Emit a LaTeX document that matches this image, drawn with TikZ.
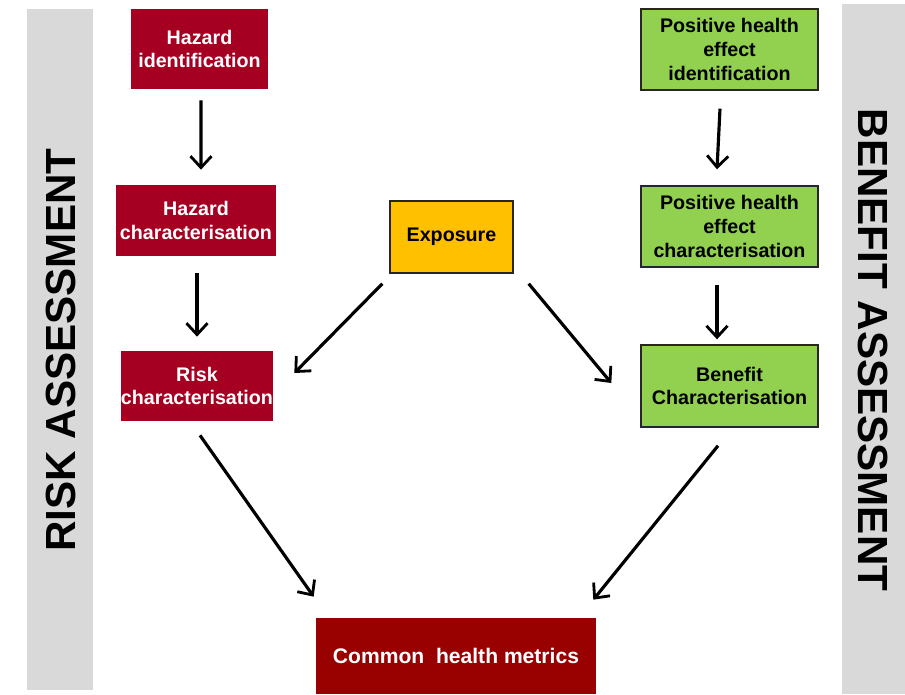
\documentclass[tikz,border=0pt]{standalone}
\usepackage{fontspec}
\setmainfont{Liberation Sans}
\usetikzlibrary{arrows.meta}
\definecolor{hazred}{HTML}{A50021}
\definecolor{metred}{HTML}{990000}
\definecolor{bengreen}{HTML}{92D050}
\definecolor{expyellow}{HTML}{FFC000}
\definecolor{bargray}{HTML}{D9D9D9}
\tikzset{
  box/.style={inner sep=0pt,align=center,font=\fontsize{11.2}{13.6}\selectfont\bfseries},
  riskbox/.style={box,fill=hazred,text=white},
  benbox/.style={box,fill=bengreen,draw=black!85,line width=0.8pt},
  arr/.style={line width=1.8pt,-{Straight Barb[length=6.5pt,width=12pt,line width=1.6pt]}},
  sidetext/.style={font=\fontsize{24}{28}\selectfont\bfseries}
}
\begin{document}
\begin{tikzpicture}[x=0.02cm,y=-0.02cm]
    \useasboundingbox (0,0) rectangle (905,694);
    \fill[bargray] (27,9) rectangle (93,690);
    \fill[bargray] (842,4) rectangle (905,694);
    \node[sidetext,rotate=90] (risk) at (61,350) {RISK ASSESSMENT};
    \node[sidetext,rotate=-90] (benefit) at (873,350) {BENEFIT ASSESSMENT};
    \node[riskbox,minimum width=2.74cm,minimum height=1.6cm] (hid) at (199.5,49) {Hazard\\identification};
    \node[riskbox,minimum width=3.2cm,minimum height=1.42cm] (hch) at (196,220.5) {Hazard\\characterisation};
    \node[riskbox,minimum width=3.04cm,minimum height=1.4cm] (rch) at (197,386) {Risk\\characterisation};
    \node[box,fill=expyellow,draw=black!85,line width=0.8pt,minimum width=2.46cm,minimum height=1.44cm] (exp) at (451.5,237) {Exposure};
    \node[benbox,minimum width=3.54cm,minimum height=1.62cm] (pid) at (729.5,49.5) {Positive health\\effect\\identification};
    \node[benbox,minimum width=3.54cm,minimum height=1.62cm] (pch) at (729.5,226.5) {Positive health\\effect\\characterisation};
    \node[benbox,minimum width=3.54cm,minimum height=1.64cm] (bch) at (729.5,386) {Benefit\\Characterisation};
    \node[box,fill=metred,text=white,font=\fontsize{12}{14}\selectfont\bfseries,minimum width=5.6cm,minimum height=1.52cm] (chm) at (456,656) {Common\ \ health metrics};
    \foreach \a/\sa/\b/\sb in {hid.south/{1.5,11}/hch.north/{5,-15},
        hch.south/{1,17}/rch.north/{0,-14},
        exp.south west/{-7,10}/rch.east/{21,-13},
        exp.south east/{15,10}/bch.west/{-29,-3},
        rch.south/{3,14}/chm.north west/{-2,-21},
        bch.south/{-11.5,18}/chm.north east/{-3,-18},
        pid.south/{-9.5,18}/pch.north/{-12.5,-16},
        pch.south/{-12.5,17}/bch.north/{-12.5,-5}}
    \draw[arr] ([shift={(\sa)}]\a) -- ([shift={(\sb)}]\b);
\end{tikzpicture}
\end{document}
